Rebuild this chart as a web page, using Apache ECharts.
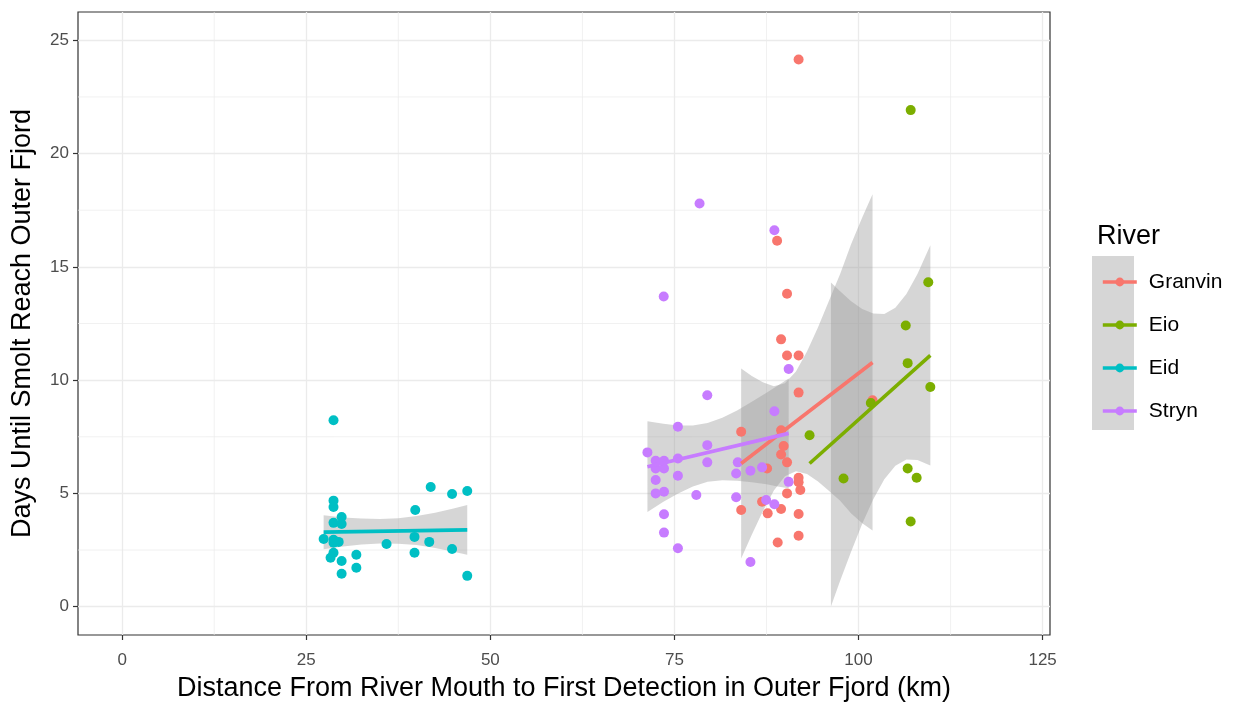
<!DOCTYPE html>
<html>
<head>
<meta charset="utf-8">
<script src="https://cdn.jsdelivr.net/npm/echarts@6/dist/echarts.min.js"></script>
<style>
html, body { margin: 0; background: #fff; }
#chart { width: 1234px; height: 702px; }
</style>
</head>
<body>
<div id="chart"></div>
<script>
// rivers, in legend order
var rivers = ['Granvin', 'Eio', 'Eid', 'Stryn'];
var colors = ['#F8766D', '#7CAE00', '#00BFC4', '#C77CFF'];

// points (km, days)
var granvinX = [91.86, 88.94, 90.29, 89.48, 90.29, 91.86, 91.86, 84.06, 89.48, 89.83, 89.48, 90.29, 87.58, 91.86, 91.86, 92.09, 90.29, 86.90, 84.06, 87.66, 89.48, 91.86, 91.86, 89.02, 101.9];
var granvinY = [24.15, 16.15, 13.81, 11.80, 11.09, 11.09, 9.45, 7.72, 7.79, 7.09, 6.72, 6.37, 6.10, 5.69, 5.49, 5.15, 5.00, 4.63, 4.27, 4.12, 4.31, 4.09, 3.13, 2.83, 9.11];
var eioX = [107.08, 109.47, 106.41, 106.67, 109.75, 101.67, 93.35, 97.96, 106.67, 107.89, 107.08];
var eioY = [21.92, 14.32, 12.41, 10.75, 9.70, 8.99, 7.57, 5.66, 6.10, 5.69, 3.76];
var eidX = [28.7, 28.7, 28.7, 29.8, 28.7, 29.8, 27.36, 28.7, 29.4, 28.7, 28.7, 28.3, 29.8, 29.8, 31.8, 31.8, 35.9, 39.8, 39.7, 39.7, 41.9, 41.7, 44.8, 44.8, 46.86, 46.86];
var eidY = [8.23, 4.68, 4.40, 3.96, 3.70, 3.65, 2.99, 2.95, 2.86, 2.82, 2.38, 2.16, 2.02, 1.45, 2.29, 1.72, 2.77, 4.27, 3.08, 2.38, 5.28, 2.86, 4.97, 2.55, 5.11, 1.36];
var strynX = [78.41, 73.54, 79.46, 75.47, 71.33, 72.45, 73.58, 75.47, 79.46, 79.46, 83.60, 72.45, 73.58, 75.47, 83.38, 72.45, 72.45, 73.58, 77.97, 83.38, 73.58, 73.58, 75.47, 88.57, 90.51, 88.57, 85.32, 86.90, 90.51, 87.45, 88.57, 85.32];
var strynY = [17.80, 13.69, 9.33, 7.94, 6.81, 6.44, 6.44, 6.54, 7.13, 6.37, 6.37, 6.10, 6.10, 5.78, 5.88, 5.59, 5.00, 5.07, 4.93, 4.83, 4.08, 3.27, 2.58, 16.62, 10.49, 8.63, 6.00, 6.15, 5.51, 4.71, 4.52, 1.97];

// fitted lines (start, end)
var granvinFitX = [84.06, 101.9];
var granvinFitY = [6.32, 10.78];
var eioFitX = [93.35, 109.75];
var eioFitY = [6.32, 11.09];
var eidFitX = [27.36, 46.86];
var eidFitY = [3.29, 3.39];
var strynFitX = [71.33, 90.51];
var strynFitY = [6.18, 7.65];

// confidence bands
var granvinBandX = [84.06, 85.5, 87.0, 88.5, 90.0, 91.5, 93.0, 94.5, 96.0, 97.5, 99.0, 100.5, 101.9];
var granvinBandHi = [10.51, 10.18, 9.91, 9.73, 9.86, 10.38, 11.26, 12.33, 13.51, 14.68, 16.01, 17.18, 18.20];
var granvinBandLo = [2.13, 3.18, 4.21, 5.13, 5.76, 5.98, 5.86, 5.53, 5.11, 4.68, 4.11, 3.68, 3.36];
var eioBandX = [96.25, 97.5, 99.0, 100.5, 102.0, 103.5, 105.0, 106.5, 108.0, 109.75];
var eioBandHi = [14.31, 13.92, 13.48, 13.14, 12.94, 12.92, 13.20, 13.80, 14.68, 15.95];
var eioBandLo = [0.01, 1.14, 2.44, 3.66, 4.74, 5.62, 6.22, 6.50, 6.48, 6.23];
var eidBandX = [27.36, 30, 32.5, 35, 37.5, 40, 42.5, 45, 46.86];
var eidBandHi = [4.04, 3.94, 3.89, 3.87, 3.90, 4.00, 4.15, 4.33, 4.49];
var eidBandLo = [2.54, 2.66, 2.75, 2.79, 2.78, 2.72, 2.59, 2.43, 2.29];
var strynBandX = [71.33, 73.5, 75.5, 77.5, 79.5, 81.5, 83.5, 85.5, 87.5, 89.0, 90.51];
var strynBandHi = [8.18, 8.07, 8.00, 8.00, 8.11, 8.34, 8.66, 9.05, 9.44, 9.75, 10.07];
var strynBandLo = [4.18, 4.63, 5.00, 5.30, 5.51, 5.58, 5.56, 5.49, 5.40, 5.31, 5.23];

// axis ticks
var xTicks = [0, 25, 50, 75, 100, 125];
var xMinor = [12.5, 37.5, 62.5, 87.5, 112.5];
var yTicks = [0, 5, 10, 15, 20, 25];
var yMinor = [2.5, 7.5, 12.5, 17.5, 22.5];

var font = 'Liberation Sans, Arial, sans-serif';

function zip(xs, ys) {
    var out = [];
    for (var i = 0; i < xs.length; i++) out.push([xs[i], ys[i]]);
    return out;
}

function pointSeries(i, xs, ys) {
    return {
        type: 'scatter',
        name: rivers[i] + ' pts',
        data: zip(xs, ys),
        symbolSize: 10,
        itemStyle: { color: colors[i], opacity: 1 },
        emphasis: { disabled: true }
    };
}

function bandSeries(i, xs, lo, hi) {
    return {
        type: 'custom',
        name: rivers[i] + ' se',
        silent: true,
        data: [[xs[0], hi[0]]],
        renderItem: function (params, api) {
            var pts = [];
            for (var k = 0; k < xs.length; k++) pts.push(api.coord([xs[k], hi[k]]));
            for (var k2 = xs.length - 1; k2 >= 0; k2--) pts.push(api.coord([xs[k2], lo[k2]]));
            return {
                type: 'polygon',
                shape: { points: pts },
                style: { fill: 'rgba(153,153,153,0.4)' }
            };
        }
    };
}

function fitSeries(i, xs, ys) {
    return {
        type: 'line',
        name: rivers[i],
        data: zip(xs, ys),
        showSymbol: false,
        symbol: 'circle',
        symbolSize: 9,
        lineStyle: { width: 3.6, color: colors[i] },
        itemStyle: { color: colors[i] },
        emphasis: { disabled: true }
    };
}

// minor grid lines, drawn under everything
var minorGrid = {
    type: 'custom',
    silent: true,
    data: [[0, 0]],
    renderItem: function (params, api) {
        var cs = params.coordSys;
        var kids = [];
        xMinor.forEach(function (v) {
            var p = api.coord([v, 0]);
            kids.push({ type: 'line', shape: { x1: p[0], y1: cs.y, x2: p[0], y2: cs.y + cs.height },
                style: { stroke: '#EBEBEB', lineWidth: 0.7 } });
        });
        yMinor.forEach(function (v) {
            var p = api.coord([0, v]);
            kids.push({ type: 'line', shape: { x1: cs.x, y1: p[1], x2: cs.x + cs.width, y2: p[1] },
                style: { stroke: '#EBEBEB', lineWidth: 0.7 } });
        });
        return { type: 'group', children: kids };
    }
};

var series = [minorGrid,
    pointSeries(0, granvinX, granvinY),
    pointSeries(1, eioX, eioY),
    pointSeries(2, eidX, eidY),
    pointSeries(3, strynX, strynY),
    bandSeries(0, granvinBandX, granvinBandLo, granvinBandHi),
    fitSeries(0, granvinFitX, granvinFitY),
    bandSeries(1, eioBandX, eioBandLo, eioBandHi),
    fitSeries(1, eioFitX, eioFitY),
    bandSeries(2, eidBandX, eidBandLo, eidBandHi),
    fitSeries(2, eidFitX, eidFitY),
    bandSeries(3, strynBandX, strynBandLo, strynBandHi),
    fitSeries(3, strynFitX, strynFitY)
];

var chart = echarts.init(document.getElementById('chart'));
chart.setOption({
    animation: false,
    textStyle: { fontFamily: font },
    title: {
        text: 'River',
        left: 1092,
        top: 218,
        textStyle: { fontFamily: font, fontSize: 27, fontWeight: 'normal', color: '#000' }
    },
    graphic: [{
        type: 'rect',
        left: 1092,
        top: 256,
        z: 0,
        shape: { width: 42, height: 174 },
        style: { fill: '#D6D6D6' }
    }],
    legend: {
        data: rivers,
        orient: 'vertical',
        left: 1096,
        top: 265,
        itemWidth: 34,
        itemHeight: 11,
        itemGap: 19,
        selectedMode: false,
        lineStyle: { width: 3.6 },
        textStyle: { fontFamily: font, fontSize: 21, lineHeight: 24, color: '#000', padding: [0, 0, 0, 7] }
    },
    grid: {
        left: 78, right: 184, top: 12, bottom: 67,
        outerBoundsMode: 'none',
        show: true,
        borderColor: '#333333',
        borderWidth: 1.2,
        backgroundColor: 'transparent'
    },
    xAxis: {
        type: 'value',
        min: -6,
        max: 126,
        name: 'Distance From River Mouth to First Detection in Outer Fjord (km)',
        nameLocation: 'middle',
        nameGap: 40,
        nameTextStyle: { fontFamily: font, fontSize: 27, color: '#000' },
        axisLine: { show: false, onZero: false },
        axisTick: { show: true, customValues: xTicks, length: 5, lineStyle: { color: '#333333', width: 1.2 } },
        axisLabel: { customValues: xTicks, margin: 17, fontSize: 17, color: '#4D4D4D', fontFamily: font },
        splitLine: { show: true, lineStyle: { color: '#EBEBEB', width: 1.3 } }
    },
    yAxis: {
        type: 'value',
        min: -1.25,
        max: 26.25,
        name: 'Days Until Smolt Reach Outer Fjord',
        nameLocation: 'middle',
        nameGap: 42,
        nameTextStyle: { fontFamily: font, fontSize: 27, color: '#000' },
        axisLine: { show: false, onZero: false },
        axisTick: { show: true, customValues: yTicks, length: 5, lineStyle: { color: '#333333', width: 1.2 } },
        axisLabel: { customValues: yTicks, margin: 9, fontSize: 17, color: '#4D4D4D', fontFamily: font },
        splitLine: { show: true, lineStyle: { color: '#EBEBEB', width: 1.3 } }
    },
    series: series
});
</script>
</body>
</html>
